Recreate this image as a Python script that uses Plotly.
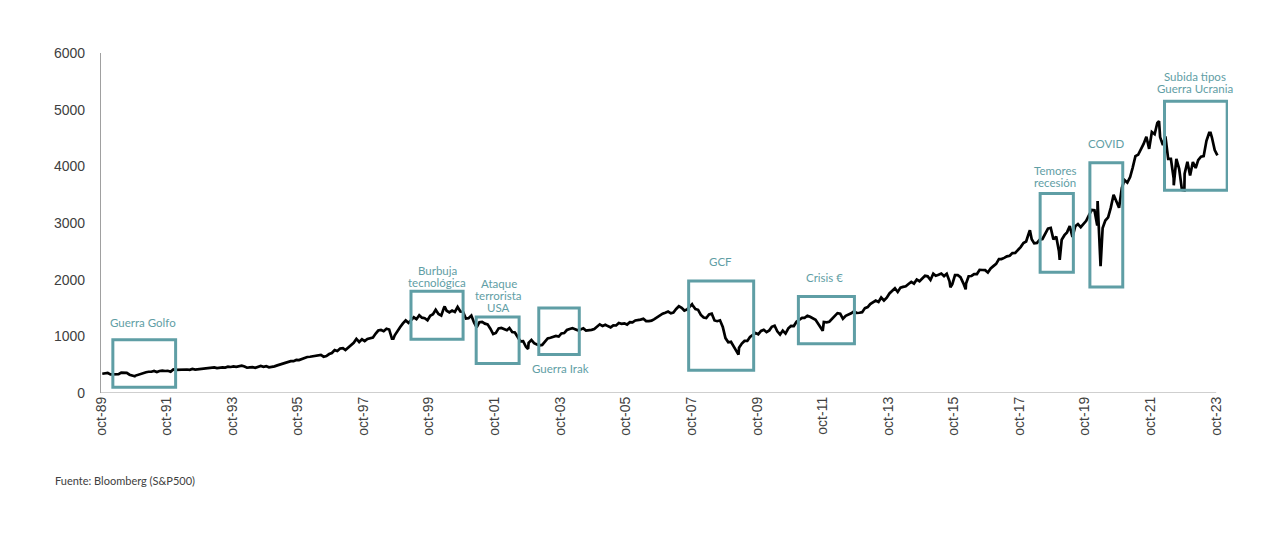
import pandas as pd
import plotly.graph_objects as go

# S&P 500, cierres mensuales desde oct-1989 (leídos aprox. del gráfico)
first_month = '1989-10'
monthly_close = [
    340, 346, 353,
    329, 332, 340, 331, 361, 358, 356, 323, 306, 304, 322, 330,
    344, 367, 375, 375, 390, 371, 388, 395, 388, 392, 375, 417,
    409, 413, 404, 415, 415, 408, 424, 414, 418, 419, 431, 436,
    439, 443, 452, 440, 450, 451, 448, 464, 459, 468, 462, 467,
    482, 467, 446, 451, 457, 444, 458, 476, 463, 472, 454, 459,
    470, 487, 501, 515, 533, 545, 562, 562, 584, 582, 605, 616,
    636, 640, 646, 654, 669, 671, 640, 652, 687, 705, 757, 741,
    786, 791, 757, 801, 848, 885, 954, 900, 947, 915, 955, 970,
    980, 1049, 1102, 1112, 1091, 1134, 1121, 957, 1017, 1099, 1164, 1229,
    1280, 1238, 1286, 1335, 1302, 1373, 1329, 1320, 1283, 1363, 1389, 1469,
    1395, 1366, 1499, 1452, 1421, 1455, 1431, 1518, 1437, 1429, 1315, 1320,
    1366, 1240, 1160, 1250, 1256, 1224, 1211, 1134, 1041, 1060, 1140, 1148,
    1130, 1107, 1147, 1077, 1067, 990, 912, 916, 815, 886, 936, 880,
    856, 841, 848, 917, 964, 975, 990, 1008, 996, 1051, 1058, 1112,
    1131, 1145, 1126, 1107, 1121, 1141, 1102, 1104, 1115, 1130, 1174, 1212,
    1181, 1204, 1181, 1157, 1192, 1191, 1234, 1220, 1229, 1207, 1250, 1248,
    1280, 1281, 1295, 1311, 1270, 1270, 1277, 1304, 1336, 1378, 1401, 1418,
    1438, 1407, 1421, 1482, 1531, 1503, 1455, 1474, 1527, 1549, 1481, 1468,
    1379, 1331, 1323, 1386, 1400, 1280, 1267, 1283, 1166, 969, 896, 903,
    826, 735, 798, 873, 919, 919, 988, 1021, 1057, 1036, 1096, 1115,
    1074, 1105, 1169, 1187, 1089, 1031, 1102, 1049, 1141, 1183, 1181, 1258,
    1286, 1327, 1326, 1364, 1345, 1321, 1292, 1219, 1131, 1253, 1247, 1258,
    1312, 1366, 1409, 1398, 1310, 1362, 1379, 1407, 1441, 1412, 1416, 1426,
    1498, 1515, 1569, 1598, 1631, 1606, 1686, 1633, 1682, 1757, 1806, 1848,
    1783, 1860, 1872, 1884, 1924, 1960, 1931, 2003, 1972, 2018, 2068, 2059,
    1995, 2105, 2068, 2086, 2107, 2063, 2104, 1972, 1920, 2079, 2080, 2044,
    1940, 1932, 2060, 2065, 2097, 2099, 2174, 2171, 2168, 2126, 2199, 2239,
    2279, 2364, 2363, 2384, 2412, 2423, 2470, 2472, 2519, 2575, 2648, 2674,
    2824, 2714, 2641, 2648, 2705, 2718, 2816, 2902, 2914, 2712, 2760, 2507,
    2704, 2785, 2834, 2946, 2752, 2942, 2980, 2927, 2977, 3038, 3141, 3231,
    3226, 2954, 2585, 2912, 3044, 3100, 3271, 3500, 3363, 3270, 3622, 3756,
    3714, 3811, 3973, 4181, 4204, 4298, 4395, 4523, 4308, 4605, 4567, 4766,
    4516, 4374, 4530, 4132, 4132, 3785, 4130, 3955, 3586, 3872, 4080, 3840,
    4077, 3970, 4109, 4170, 4180, 4450, 4589, 4508, 4288, 4194,
]

# máximos y mínimos intramensuales visibles en la línea
extreme_dates = ['1990-10-11', '1998-08-31', '2000-03-24', '2002-10-09', '2007-10-09',
                 '2009-03-09', '2011-10-03', '2015-08-25', '2016-02-11', '2018-01-26',
                 '2018-12-24', '2020-02-19', '2020-03-23', '2022-01-03', '2022-06-16',
                 '2022-10-12', '2023-07-31']
extreme_values = [295, 957, 1527, 777, 1565, 677, 1099, 1867, 1829, 2873,
                  2351, 3386, 2237, 4797, 3666, 3577, 4589]

# recuadros de eventos
event_lines = [['Guerra Golfo'], ['Burbuja', 'tecnológica'], ['Ataque', 'terrorista', 'USA'],
               ['Guerra Irak'], ['GCF'], ['Crisis €'], ['Temores', 'recesión'], ['COVID'],
               ['Subida tipos', 'Guerra Ucrania']]
box_start = ['1990-02-10', '1999-03-15', '2001-03-10', '2003-02-05', '2007-09-01',
             '2011-01-05', '2018-05-20', '2019-11-25', '2022-03-05']
box_end = ['1992-01-10', '2000-10-15', '2002-07-01', '2004-05-01', '2009-08-25',
           '2012-09-20', '2019-05-25', '2020-11-25', '2024-02-01']
box_low = [100, 950, 520, 680, 400, 870, 2130, 1870, 3580]
box_high = [940, 1795, 1340, 1500, 1975, 1705, 3520, 4065, 5150]
label_x = ['1991-01-17', '2000-01-01', '2001-11-15', '2003-10-05', '2008-08-15',
           '2011-10-20', '2018-11-07', '2020-05-25', '2023-02-13']
label_y = [1248, 2050, 1715, 441, 2324, 2047, 3829, 4401, 5479]

tick_dates = pd.date_range('1989-10-01', '2023-10-01', freq='24MS')
tick_text = ['oct-' + d.strftime('%y') for d in tick_dates]

TEAL = 'rgb(95, 158, 165)'
AXIS_GREY = 'rgb(160, 160, 160)'
TEXT_GREY = 'rgb(64, 64, 64)'

# la página deja 8 px de margen en el body
W, H = 1272, 526
LEFT, TOP, RIGHT = 92.5, 44.7, 52
PLOT_W, PLOT_H = W - LEFT - RIGHT, 340

months = pd.date_range(first_month + '-01', periods=len(monthly_close), freq='MS') + pd.Timedelta(days=14)
series = pd.concat([
    pd.Series(monthly_close, index=months),
    pd.Series(extreme_values, index=pd.to_datetime(extreme_dates)),
]).sort_index()

fig = go.Figure()
fig.add_trace(go.Scatter(
    x=series.index, y=series.values,
    mode='lines',
    line=dict(color='black', width=2.7),
    hoverinfo='x+y',
))

for i in range(len(event_lines)):
    fig.add_shape(type='rect', xref='x', yref='y',
                  x0=box_start[i], x1=box_end[i], y0=box_low[i], y1=box_high[i],
                  line=dict(color=TEAL, width=3), fillcolor='rgba(0,0,0,0)', layer='above')
    n = len(event_lines[i])
    for j, text in enumerate(event_lines[i]):
        fig.add_annotation(x=label_x[i], y=label_y[i], xref='x', yref='y',
                           text=text, showarrow=False,
                           yshift=((n - 1) / 2 - j) * 12,
                           font=dict(family='Lato', size=11.5, color=TEAL))

# eje x dibujado a mano para que acabe en oct-23
fig.add_shape(type='line', xref='x', yref='y', x0='1989-10-01', x1='2023-10-01', y0=0, y1=0,
              line=dict(color=AXIS_GREY, width=1.2), layer='below')

fig.add_annotation(x=-(LEFT - 44) / PLOT_W, y=-(472 - (TOP + PLOT_H)) / PLOT_H,
                   xref='paper', yref='paper',
                   text='Fuente: Bloomberg (S&P500)', showarrow=False,
                   xanchor='left', yanchor='middle',
                   font=dict(family='Lato', size=11, color=TEXT_GREY))

fig.update_layout(
    width=W, height=H,
    margin=dict(l=LEFT, r=RIGHT, t=TOP, b=H - TOP - PLOT_H),
    paper_bgcolor='white', plot_bgcolor='white',
    showlegend=False,
    font=dict(family='Liberation Sans', size=14, color=TEXT_GREY),
    xaxis=dict(
        type='date',
        range=['1989-10-01', '2024-02-10'],
        tickvals=tick_dates, ticktext=tick_text,
        tickangle=-90, ticks='', showgrid=False, zeroline=False,
        showline=False,
        tickfont=dict(family='Liberation Sans', size=14, color=TEXT_GREY),
    ),
    yaxis=dict(
        range=[0, 6000], dtick=1000,
        ticks='', showgrid=False, zeroline=False,
        showline=True, linecolor=AXIS_GREY, linewidth=1.2,
        ticklabelstandoff=12,
        tickfont=dict(family='Liberation Sans', size=14, color=TEXT_GREY),
    ),
)

fig.write_html('out.html')
